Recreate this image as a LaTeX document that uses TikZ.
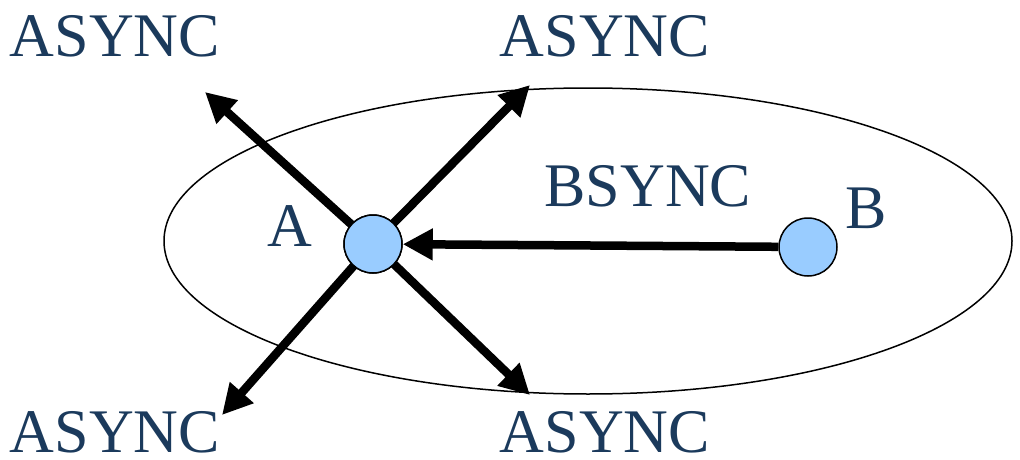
\documentclass[tikz,border=0pt]{standalone}
\usepackage{fontspec}
\setmainfont{Liberation Serif}
\newfontfamily\lserif{Liberation Serif}
\usetikzlibrary{arrows.meta}
\definecolor{txt}{HTML}{1B3A5C}
\definecolor{nodefill}{HTML}{99CCFF}
\begin{document}
\begin{tikzpicture}[x=1pt,y=-1pt,
  lab/.style={text=txt,font=\lserif\fontsize{62}{62}\selectfont,inner sep=0pt},
  pt/.style={circle,draw=black,line width=1.5pt,fill=nodefill,minimum size=58pt,inner sep=0pt},
  arr/.style={line width=8.5pt,-{Triangle[length=30pt,width=30pt]}}]
\useasboundingbox (0,0) rectangle (1020,460);
\draw[line width=1.5pt] (588,241) ellipse [x radius=424, y radius=153];
\node[pt] (A) at (373,244) {};
\node[pt] (B) at (808,247) {};
\coordinate (ul) at (205,92);
\coordinate (ur) at (530,85);
\coordinate (ll) at (222,415);
\coordinate (lr) at (530,395);
\draw[arr] (A.center) -- (ul);
\draw[arr] (A.center) -- (ur);
\draw[arr] (A.center) -- (ll);
\draw[arr] (A.center) -- (lr);
\draw[arr] (B) -- (A);
\node[pt] at (373,244) {};
\node[lab] (t1) at (115,36) {ASYNC};
\node[lab] (t2) at (605,36) {ASYNC};
\node[lab] (t3) at (115,432) {ASYNC};
\node[lab] (t4) at (605,432) {ASYNC};
\node[lab] (la) at (290,226) {A};
\node[lab] (lb) at (866,208) {B};
\node[lab] (ls) at (648,186) {BSYNC};
\end{tikzpicture}
\end{document}
